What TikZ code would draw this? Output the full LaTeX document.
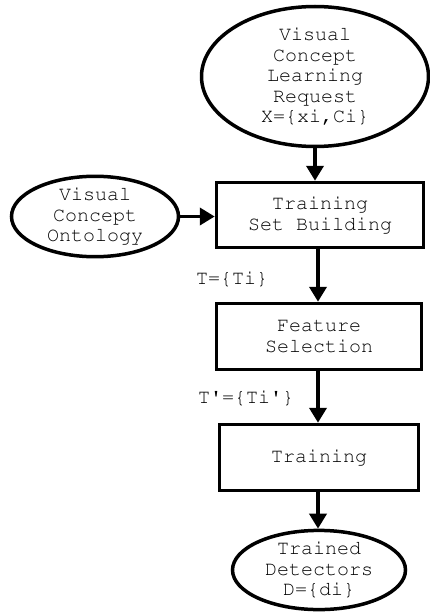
\documentclass[tikz,border=0pt]{standalone}
\usepackage[T1]{fontenc}
\usepackage{courier}
\usetikzlibrary{shapes.geometric,arrows.meta}
\begin{document}
\begin{tikzpicture}[x=1pt,y=-1pt,
 txt/.style={font=\fontsize{20}{20.5}\selectfont\ttfamily, align=center},
 ell/.style={txt, draw, ellipse, line width=3.5pt, inner sep=0pt},
 box/.style={txt, draw, rectangle, line width=3.5pt, inner sep=0pt},
 arr/.style={line width=3.8pt, -{Triangle[width=17pt,length=15pt]}}]
\useasboundingbox (0,0) rectangle (430,613);
\node[ell, minimum width=227pt, minimum height=140pt] (req) at (315,76.5) {Visual\\Concept\\Learning\\Request\\X=\{xi,Ci\}};
\node[ell, minimum width=167pt, minimum height=80pt] (ont) at (95,216.5) {Visual\\Concept\\Ontology};
\node[box, minimum width=207pt, minimum height=65pt] (tsb) at (320,215) {Training\\Set Building};
\node[box, minimum width=205pt, minimum height=66pt] (fs) at (319,336.5) {Feature\\Selection};
\node[box, minimum width=199pt, minimum height=66pt] (tr) at (319,457.5) {Training};
\node[ell, minimum width=173pt, minimum height=77pt] (det) at (319,570) {Trained\\Detectors\\D=\{di\}};
\node[txt] (l1) at (232,279) {T=\{Ti\}};
\node[txt] (l2) at (246,398) {T\textquotesingle=\{Ti\textquotesingle\}};
\draw[arr] (req.south) -- (req.south |- tsb.north);
\draw[arr] (ont.east) -- (ont.east -| tsb.west);
\draw[arr] ([xshift=-2pt]tsb.south) -- ([xshift=-2pt]tsb.south |- fs.north);
\draw[arr] ([xshift=-1pt]fs.south) -- ([xshift=-1pt]fs.south |- tr.north);
\draw[arr] ([xshift=-1pt]tr.south) -- ([xshift=-1pt]tr.south |- det.north);
\end{tikzpicture}
\end{document}
